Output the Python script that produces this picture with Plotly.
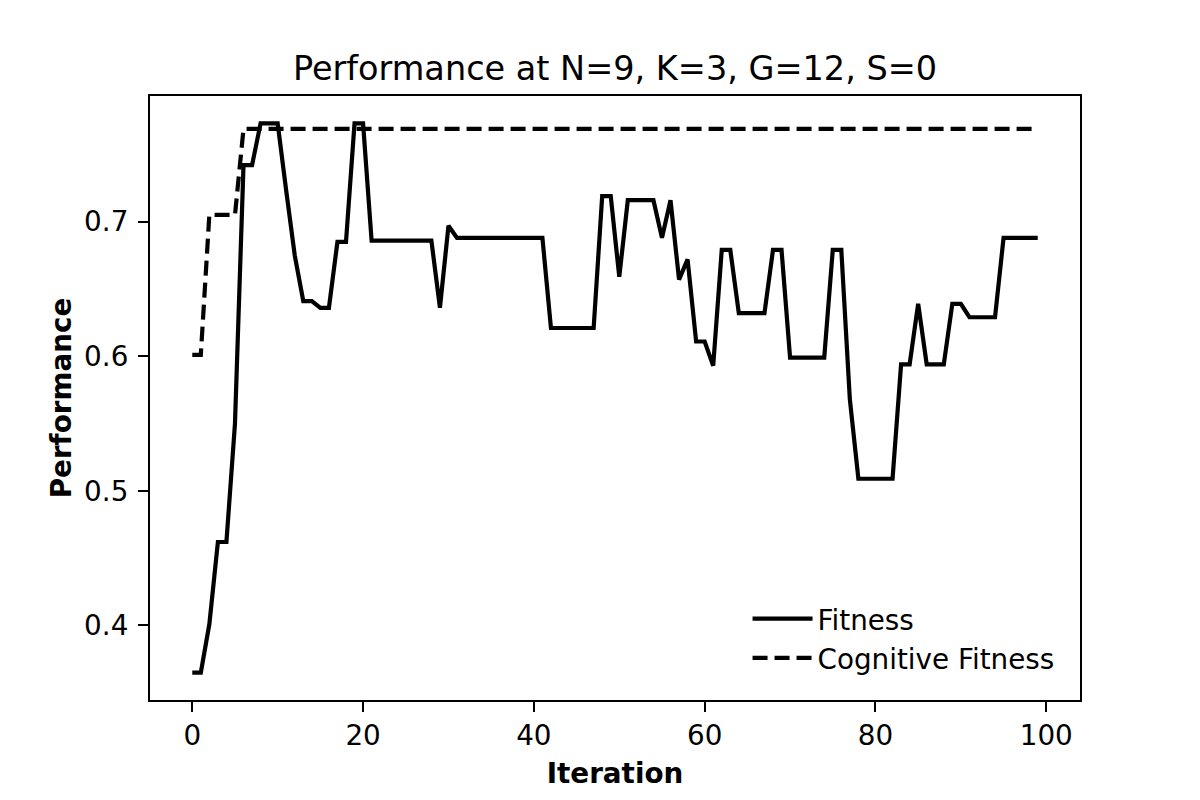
import plotly.graph_objs as go

# Iterations 0..99
iteration = list(range(100))

# Fitness values
fitness = [
    0.365, 0.365, 0.401, 0.462, 0.462, 0.550, 0.742, 0.742, 0.773, 0.773,
    0.773, 0.723, 0.675, 0.641, 0.641, 0.636, 0.636, 0.685, 0.685, 0.773,
    0.773, 0.686, 0.686, 0.686, 0.686, 0.686, 0.686, 0.686, 0.686, 0.636,
    0.697, 0.688, 0.688, 0.688, 0.688, 0.688, 0.688, 0.688, 0.688, 0.688,
    0.688, 0.688, 0.621, 0.621, 0.621, 0.621, 0.621, 0.621, 0.719, 0.719,
    0.659, 0.716, 0.716, 0.716, 0.716, 0.688, 0.716, 0.657, 0.672, 0.611,
    0.611, 0.593, 0.679, 0.679, 0.632, 0.632, 0.632, 0.632, 0.679, 0.679,
    0.599, 0.599, 0.599, 0.599, 0.599, 0.679, 0.679, 0.568, 0.509, 0.509,
    0.509, 0.509, 0.509, 0.594, 0.594, 0.639, 0.594, 0.594, 0.594, 0.639,
    0.639, 0.629, 0.629, 0.629, 0.629, 0.688, 0.688, 0.688, 0.688, 0.688,
]

# Cognitive fitness values
cognitive = [
    0.601, 0.601, 0.705, 0.705, 0.705, 0.705, 0.769, 0.769, 0.769, 0.769,
    0.769, 0.769, 0.769, 0.769, 0.769, 0.769, 0.769, 0.769, 0.769, 0.769,
    0.769, 0.769, 0.769, 0.769, 0.769, 0.769, 0.769, 0.769, 0.769, 0.769,
    0.769, 0.769, 0.769, 0.769, 0.769, 0.769, 0.769, 0.769, 0.769, 0.769,
    0.769, 0.769, 0.769, 0.769, 0.769, 0.769, 0.769, 0.769, 0.769, 0.769,
    0.769, 0.769, 0.769, 0.769, 0.769, 0.769, 0.769, 0.769, 0.769, 0.769,
    0.769, 0.769, 0.769, 0.769, 0.769, 0.769, 0.769, 0.769, 0.769, 0.769,
    0.769, 0.769, 0.769, 0.769, 0.769, 0.769, 0.769, 0.769, 0.769, 0.769,
    0.769, 0.769, 0.769, 0.769, 0.769, 0.769, 0.769, 0.769, 0.769, 0.769,
    0.769, 0.769, 0.769, 0.769, 0.769, 0.769, 0.769, 0.769, 0.769, 0.769,
]

x_ticks = [0, 20, 40, 60, 80, 100]
y_ticks = [0.4, 0.5, 0.6, 0.7]

title_text = 'Performance at N=9, K=3, G=12, S=0'

# matplotlib-like 5% margins on the data range
x_lo, x_hi = min(iteration), max(iteration)
x_pad = 0.05 * (x_hi - x_lo)
all_y = fitness + cognitive
y_lo, y_hi = min(all_y), max(all_y)
y_pad = 0.05 * (y_hi - y_lo)

font_family = 'DejaVu Sans'
fs = 27.8

fit_trace = go.Scatter(
    x=iteration, y=fitness, mode='lines', name='Fitness',
    line=dict(color='black', width=4.2)
)
cog_trace = go.Scatter(
    x=iteration, y=cognitive, mode='lines', name='Cognitive Fitness',
    line=dict(color='black', width=4.2, dash='15px,7px')
)

axis_common = dict(
    showline=True, mirror=True, linecolor='black', linewidth=2.2,
    showgrid=False, zeroline=False,
    ticks='outside', ticklen=10, tickwidth=2.2, tickcolor='black',
    tickfont=dict(family=font_family, size=fs, color='black'),
)

layout = go.Layout(
    width=1200,
    height=800,
    # the page adds ~8px body margin, so shift the plot area up/left
    margin=dict(l=142, r=128, t=88, b=108),
    paper_bgcolor='white',
    plot_bgcolor='white',
    title=dict(
        text=title_text, xref='paper', x=0.5, xanchor='center',
        y=1 - 60 / 800, yanchor='middle',
        font=dict(family=font_family, size=33.5, color='black'),
    ),
    xaxis=dict(
        range=[x_lo - x_pad, x_hi + x_pad],
        tickvals=x_ticks,
        title=dict(text='<b>Iteration</b>', standoff=12,
                   font=dict(family=font_family, size=fs, color='black')),
        **axis_common,
    ),
    yaxis=dict(
        range=[y_lo - y_pad, y_hi + y_pad],
        tickvals=y_ticks,
        tickformat='.1f',
        ticklabelstandoff=4,
        title=dict(text='<b>Performance</b>', standoff=4,
                   font=dict(family=font_family, size=fs, color='black')),
        **axis_common,
    ),
    legend=dict(
        x=0.978, xanchor='right', y=0.028, yanchor='bottom',
        bgcolor='rgba(0,0,0,0)', borderwidth=0,
        itemwidth=60,
        font=dict(family=font_family, size=fs, color='black'),
    ),
    showlegend=True,
)

fig = go.Figure(data=[fit_trace, cog_trace], layout=layout)

fig.write_html("out.html")
